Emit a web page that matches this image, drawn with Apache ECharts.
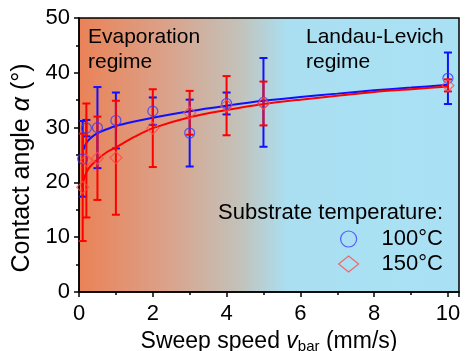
<!DOCTYPE html>
<html>
<head>
<meta charset="utf-8">
<script src="https://cdn.jsdelivr.net/npm/echarts@6/dist/echarts.min.js"></script>
<style>html,body{margin:0;padding:0;background:#fff}#c{width:465px;height:351px}</style>
</head>
<body>
<div id="c"></div>
<script>
// ---- data ----
const speeds = [0.1, 0.2, 0.5, 1, 2, 3, 4, 5, 10];
const angle100 = [24.3, 29.9, 30.0, 31.3, 33.0, 29.0, 34.4, 34.6, 39.0];
const err100 = [6.9, 1.5, 7.4, 5.1, 2.5, 6.1, 2.0, 8.1, 4.7];
const angle150 = [19.1, 24.0, 24.4, 24.5, 29.9, 32.7, 34.0, 34.4, 37.7];
const err150 = [9.8, 10.4, 7.6, 10.4, 7.1, 4.0, 5.4, 4.0, 1.1];
const fitX100 = [0.12, 0.2, 0.3, 0.5, 0.75, 1, 1.5, 2, 3, 4, 5, 6, 7, 8, 9, 10];
const fitY100 = [26.0, 27.2, 28.0, 29.0, 29.7, 30.3, 31.1, 31.8, 33.0, 34.0, 34.9, 35.6, 36.2, 36.8, 37.3, 37.8];
const fitX150 = [0.08, 0.13, 0.2, 0.3, 0.5, 0.75, 1, 1.5, 2, 3, 4, 5, 6, 7, 8, 9, 10];
const fitY150 = [19.2, 20.5, 21.8, 22.9, 24.2, 25.5, 26.4, 28.3, 29.9, 31.9, 33.2, 34.3, 35.1, 35.8, 36.5, 37.0, 37.5];
const xTicks = [0, 2, 4, 6, 8, 10];
const yTicks = [0, 10, 20, 30, 40, 50];
const seriesNames = ['100°C', '150°C'];

const FONT = '"Liberation Sans", Arial, sans-serif';
const BLUE = '#1010ff', RED = '#ff0000';

function errData(vals, errs) {
  return speeds.map((x, i) => [x, vals[i] - errs[i], vals[i] + errs[i]]);
}
function errRender(color) {
  return function (params, api) {
    const x = api.value(0);
    const lo = api.coord([x, api.value(1)]);
    const hi = api.coord([x, api.value(2)]);
    const hw = 4;
    const st = { stroke: color, lineWidth: 2 };
    return {
      type: 'group',
      children: [
        { type: 'line', shape: { x1: lo[0], y1: lo[1], x2: hi[0], y2: hi[1] }, style: st },
        { type: 'line', shape: { x1: lo[0] - hw, y1: lo[1], x2: lo[0] + hw, y2: lo[1] }, style: st },
        { type: 'line', shape: { x1: hi[0] - hw, y1: hi[1], x2: hi[0] + hw, y2: hi[1] }, style: st }
      ]
    };
  };
}

const chart = echarts.init(document.getElementById('c'), null, { renderer: 'canvas' });
chart.setOption({
  animation: false,
  textStyle: { fontFamily: FONT },
  grid: {
    left: 79, top: 18, right: 6, bottom: 59,
    outerBoundsMode: 'none', containLabel: false,
    show: true, borderColor: '#000', borderWidth: 1.5,
    backgroundColor: {
      type: 'linear', x: 0, y: 0, x2: 1, y2: 0,
      colorStops: [
        { offset: 0, color: '#ea8257' },
        { offset: 0.22, color: '#dca087' },
        { offset: 0.42, color: '#c3c1b9' },
        { offset: 0.55, color: '#aadff1' },
        { offset: 1, color: '#a9e1f4' }
      ]
    }
  },
  xAxis: {
    type: 'value', min: 0, max: 10.3, interval: 2,
    name: 'Sweep speed {i|v}{sub|bar} (mm/s)',
    nameLocation: 'middle', nameGap: 29,
    nameTextStyle: {
      fontSize: 23, color: '#000', fontFamily: FONT,
      rich: {
        i: { fontSize: 23, fontStyle: 'italic', color: '#000', fontFamily: FONT },
        sub: { fontSize: 15, color: '#000', fontFamily: FONT, padding: [10, 0, 0, 0] }
      }
    },
    axisLine: { show: true, lineStyle: { color: '#000', width: 1.5 } },
    axisTick: { show: true, inside: false, length: 5, lineStyle: { color: '#000', width: 1.5 } },
    minorTick: { show: true, splitNumber: 2, length: 3, lineStyle: { color: '#000', width: 1.5 } },
    splitLine: { show: false },
    axisLabel: {
      fontSize: 22, color: '#000', margin: 11, showMaxLabel: false,
      formatter: v => (xTicks.indexOf(v) >= 0 ? String(v) : '')
    }
  },
  yAxis: {
    type: 'value', min: 0, max: 50, interval: 10,
    name: 'Contact angle {i|α} (°)',
    nameLocation: 'middle', nameGap: 35,
    nameTextStyle: {
      fontSize: 25, color: '#000', fontFamily: FONT, padding: [0, 26, 0, 0],
      rich: { i: { fontSize: 25, fontStyle: 'italic', color: '#000', fontFamily: FONT } }
    },
    axisLine: { show: true, lineStyle: { color: '#000', width: 1.5 } },
    axisTick: { show: true, inside: false, length: 5, lineStyle: { color: '#000', width: 1.5 } },
    minorTick: { show: true, splitNumber: 2, length: 3, lineStyle: { color: '#000', width: 1.5 } },
    splitLine: { show: false },
    axisLabel: {
      fontSize: 22, color: '#000', margin: 9,
      formatter: v => (yTicks.indexOf(v) >= 0 ? String(v) : '')
    }
  },
  legend: {
    orient: 'vertical', right: 22, top: 228, align: 'left',
    itemWidth: 20, itemHeight: 16, itemGap: 3, padding: 0,
    textStyle: { fontSize: 22, color: '#000', fontFamily: FONT, padding: [0, 0, 0, 18] },
    data: [
      { name: seriesNames[0], icon: 'circle', itemStyle: { color: 'transparent', borderColor: '#3a3aff', borderWidth: 1.2 } },
      { name: seriesNames[1], icon: 'diamond', itemStyle: { color: 'transparent', borderColor: '#ff4a4a', borderWidth: 1.2 } }
    ]
  },
  graphic: [
    { type: 'text', left: 88, top: 25, z: 10,
      style: { text: 'Evaporation\nregime', font: '21px ' + FONT, fill: '#000', lineHeight: 25 } },
    { type: 'text', left: 306, top: 25, z: 10,
      style: { text: 'Landau-Levich\nregime', font: '21px ' + FONT, fill: '#000', lineHeight: 25 } },
    { type: 'text', right: 22, top: 202, z: 10,
      style: { text: 'Substrate temperature:', font: '22px ' + FONT, fill: '#000' } }
  ],
  series: [
    { type: 'custom', name: 'err100', renderItem: errRender(BLUE), data: errData(angle100, err100), z: 2, silent: true },
    { type: 'line', name: 'fit100', data: fitX100.map((x, i) => [x, fitY100[i]]), smooth: 0.3, showSymbol: false,
      lineStyle: { color: BLUE, width: 2 }, itemStyle: { color: BLUE }, z: 3 },
    { type: 'custom', name: 'err150', renderItem: errRender(RED), data: errData(angle150, err150), z: 4, silent: true },
    { type: 'line', name: 'fit150', data: fitX150.map((x, i) => [x, fitY150[i]]), smooth: 0.3, showSymbol: false,
      lineStyle: { color: RED, width: 2 }, itemStyle: { color: RED }, z: 5 },
    { type: 'scatter', name: seriesNames[0], data: speeds.map((x, i) => [x, angle100[i]]), symbol: 'circle', symbolSize: 10,
      itemStyle: { color: 'transparent', borderColor: '#3a3aff', borderWidth: 1.2 }, z: 6 },
    { type: 'scatter', name: seriesNames[1], data: speeds.map((x, i) => [x, angle150[i]]), symbol: 'diamond', symbolSize: 12,
      itemStyle: { color: 'transparent', borderColor: '#ff4a4a', borderWidth: 1.2 }, z: 7 }
  ]
});
</script>
</body>
</html>
